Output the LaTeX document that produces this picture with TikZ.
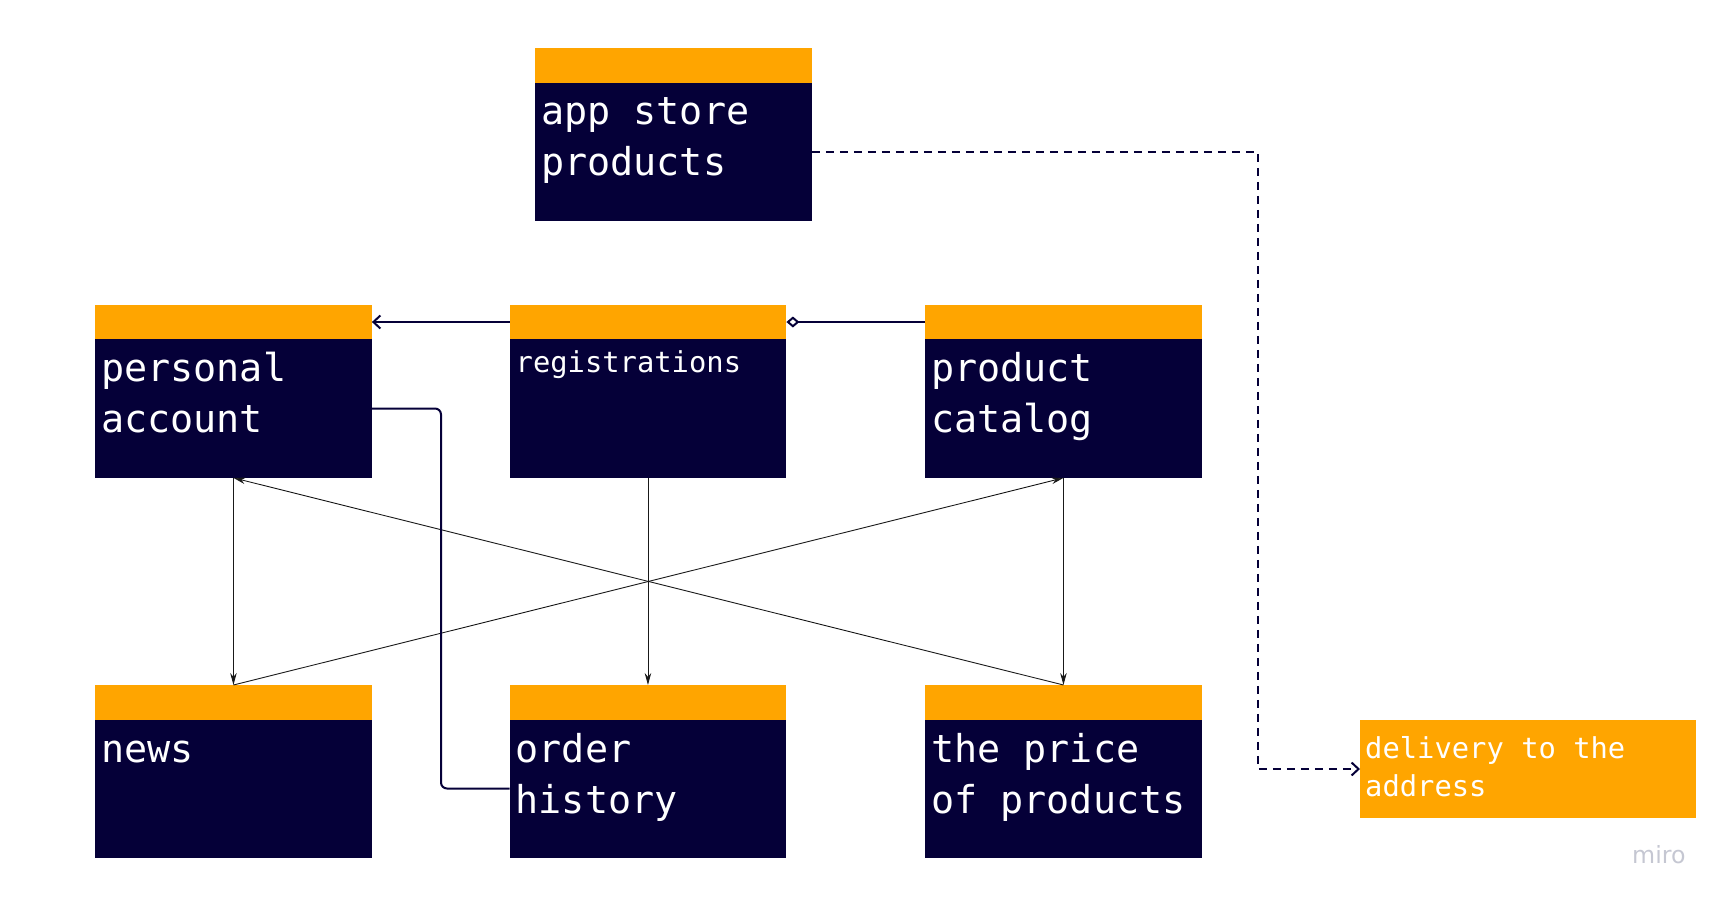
\documentclass[tikz,border=0pt]{standalone}
\usepackage{fontspec}
\setmonofont{DejaVu Sans Mono}
\newfontfamily\mirofont{DejaVu Sans}
\usetikzlibrary{arrows.meta,calc}
\definecolor{navy}{HTML}{050038}
\definecolor{hdrorange}{HTML}{FFA500}
\definecolor{mirogray}{HTML}{C5C7D2}
\begin{document}
\begin{tikzpicture}[x=1pt,y=-1pt,
  body/.style={fill=navy, inner sep=0, minimum width=276.5, minimum height=172.5, anchor=north west},
  bigtext/.style={text=white, font=\ttfamily\fontsize{38.4}{51}\selectfont, align=left, inner sep=0, anchor=base west},
  smalltext/.style={text=white, font=\ttfamily\fontsize{28.8}{38.5}\selectfont, align=left, inner sep=0, anchor=base west},
  thinarrow/.style={draw=black!90, line width=0.9, -{Stealth[length=12,width=6.5]}},
  link/.style={draw=navy, line width=2}]
\useasboundingbox (0,0) rectangle (1727,904);

% boxes
\node[body] (app) at (535,48) {};
\fill[hdrorange] (app.north west) rectangle ($(app.north east)+(0,35)$);
\node[bigtext] (appt) at ($(app.north west)+(6,128)$) {app store\\products};

\node[body] (pa) at (95,305) {};
\fill[hdrorange] (pa.north west) rectangle ($(pa.north east)+(0,34)$);
\node[bigtext] (pat) at ($(pa.north west)+(6,127)$) {personal\\account};

\node[body] (reg) at (509.5,305) {};
\fill[hdrorange] (reg.north west) rectangle ($(reg.north east)+(0,34)$);
\node[smalltext] (regt) at ($(reg.north west)+(6,67)$) {registrations};

\node[body] (cat) at (925,305) {};
\fill[hdrorange] (cat.north west) rectangle ($(cat.north east)+(0,34)$);
\node[bigtext] (catt) at ($(cat.north west)+(6,127)$) {product\\catalog};

\node[body] (news) at (95,685) {};
\fill[hdrorange] (news.north west) rectangle ($(news.north east)+(0,35)$);
\node[bigtext] (newst) at ($(news.north west)+(6,77)$) {news};

\node[body] (oh) at (509.5,685) {};
\fill[hdrorange] (oh.north west) rectangle ($(oh.north east)+(0,35)$);
\node[bigtext] (oht) at ($(oh.north west)+(6,128)$) {order\\history};

\node[body] (price) at (925,685) {};
\fill[hdrorange] (price.north west) rectangle ($(price.north east)+(0,35)$);
\node[bigtext] (pricet) at ($(price.north west)+(6,128)$) {the price\\of products};

\node[fill=hdrorange, inner sep=0, minimum width=335.5, minimum height=98, anchor=north west] (del) at (1360,720) {};
\node[smalltext] (delt) at ($(del.north west)+(5,76.5)$) {delivery to the\\address};

\node[text=mirogray, font=\mirofont\fontsize{23.7}{28}\selectfont, inner sep=0, anchor=base west] (miro) at (1632,863) {miro};

% thin arrows
\draw[thinarrow] (pa.south) -- (news.north);
\draw[thinarrow] (news.north) -- (cat.south);
\draw[thinarrow] (cat.south) -- (price.north);
\draw[thinarrow] (price.north) -- (pa.south);
\draw[thinarrow] (reg.south) -- (oh.north);

% header links
\coordinate (regL) at ($(reg.north west)+(0,17)$);
\coordinate (regR) at ($(reg.north east)+(0,17)$);
\coordinate (paR) at ($(pa.north east)+(0,17)$);
\coordinate (catL) at ($(cat.north west)+(0,17)$);
\draw[link, -{Straight Barb[length=7,width=13]}] (regL) -- (paR);
\draw[link, -{Diamond[open,fill=white,length=13,width=11]}] (catL) -- (regR);

% personal account to order history
\coordinate (b1) at (441,408.5);
\coordinate (b2) at (441,788.5);
\draw[link, rounded corners=6] (pa.east |- b1) -- (b1) -- (b2) -- (oh.west |- b2);

% dashed to delivery
\coordinate (d1) at (1258,152);
\coordinate (d2) at (1258,769);
\draw[link, dash pattern=on 8 off 6, -{Straight Barb[length=7,width=13]}] (app.east |- d1) -- (d1) -- (d2) -- (del.west |- d2);
\end{tikzpicture}
\end{document}
